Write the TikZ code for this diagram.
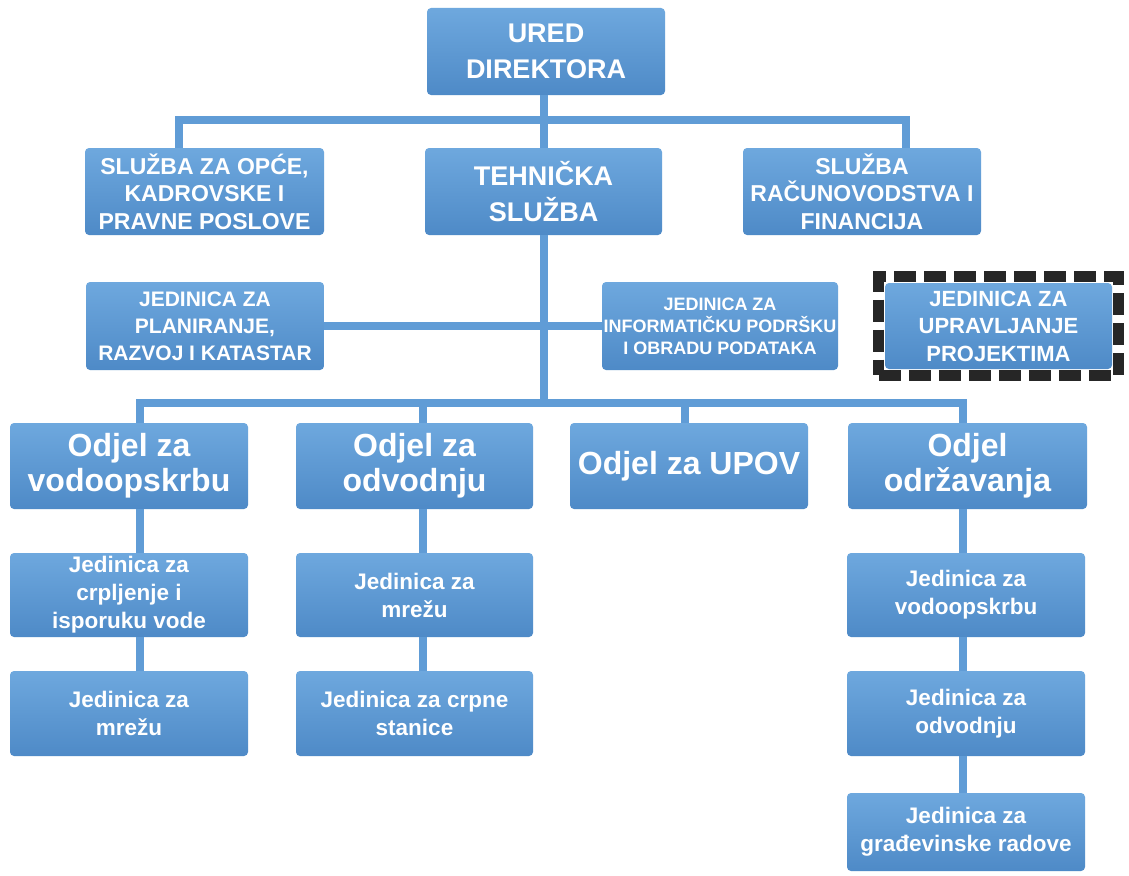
\documentclass[tikz,border=0pt]{standalone}
\usepackage{fontspec}
\setmainfont{Liberation Sans}
\usetikzlibrary{fit}
\definecolor{boxtop}{RGB}{110,168,222}
\definecolor{boxbot}{RGB}{78,138,199}
\definecolor{linecol}{RGB}{96,156,214}
\tikzset{
  orgbox/.style={rounded corners=4pt, top color=boxtop, bottom color=boxbot, draw=none,
    text=white, align=center, inner sep=0pt, anchor=center},
  big/.style={font=\fontsize{27pt}{36pt}\selectfont\bfseries},
  mid/.style={font=\fontsize{23pt}{27.5pt}\selectfont\bfseries},
  odj/.style={font=\fontsize{32pt}{35pt}\selectfont\bfseries},
  unit/.style={font=\fontsize{22.5pt}{28pt}\selectfont\bfseries},
  conn/.style={draw=linecol, line width=8pt},
  dashframe/.style={draw=black!85, line width=11pt, dash pattern=on 22pt off 8pt, inner sep=6pt}
}
\begin{document}
\begin{tikzpicture}[x=1pt,y=-1pt]
\useasboundingbox[fill=white] (0,0) rectangle (1129,875);
% coordinates for connector bends
\coordinate (h1) at (544,120);
\coordinate (h1l) at (179,120);
\coordinate (h1r) at (906,120);
\coordinate (h3) at (544,403);
\coordinate (h3l) at (140,403);
\coordinate (v2) at (423,403);
\coordinate (v3) at (685,403);
\coordinate (h3r) at (963,403);

% level 1
\node[orgbox,big,minimum width=238pt,minimum height=87pt] (dir) at (546,51.5) {URED\\DIREKTORA};
% level 2
\node[orgbox,mid,minimum width=239pt,minimum height=87pt] (opce) at (204.5,191.5) {SLUŽBA ZA OPĆE,\\KADROVSKE I\\PRAVNE POSLOVE};
\node[orgbox,big,minimum width=237pt,minimum height=87pt] (teh) at (543.5,191.5) {TEHNIČKA\\SLUŽBA};
\node[orgbox,mid,minimum width=238pt,minimum height=87pt] (rac) at (862,191.5) {SLUŽBA\\RAČUNOVODSTVA I\\FINANCIJA};
% level 3
\node[orgbox,font=\fontsize{21pt}{27pt}\selectfont\bfseries,minimum width=238pt,minimum height=88pt] (plan) at (205,326) {JEDINICA ZA\\PLANIRANJE,\\RAZVOJ I KATASTAR};
\node[orgbox,font=\fontsize{18pt}{22pt}\selectfont\bfseries,minimum width=236pt,minimum height=88pt] (inf) at (720,326) {JEDINICA ZA\\INFORMATIČKU PODRŠKU\\I OBRADU PODATAKA};
\node[orgbox,font=\fontsize{22pt}{27.5pt}\selectfont\bfseries,minimum width=227pt,minimum height=86pt] (proj) at (998.5,326) {JEDINICA ZA\\UPRAVLJANJE\\PROJEKTIMA};
\node[dashframe,fit=(proj)] (projframe) {};
% level 4
\node[orgbox,odj,minimum width=238pt,minimum height=86pt] (d1) at (129,466) {Odjel za\\vodoopskrbu};
\node[orgbox,odj,minimum width=237pt,minimum height=86pt] (d2) at (414.5,466) {Odjel za\\odvodnju};
\node[orgbox,odj,minimum width=238pt,minimum height=86pt] (d3) at (689,466) {Odjel za UPOV};
\node[orgbox,odj,minimum width=239pt,minimum height=86pt] (d4) at (967.5,466) {Odjel\\održavanja};
% level 5
\node[orgbox,unit,minimum width=238pt,minimum height=84pt] (e1) at (129,595) {Jedinica za\\crpljenje i\\isporuku vode};
\node[orgbox,unit,minimum width=238pt,minimum height=85pt] (f1) at (129,713.5) {Jedinica za\\mrežu};
\node[orgbox,unit,minimum width=237pt,minimum height=84pt] (e2) at (414.5,595) {Jedinica za\\mrežu};
\node[orgbox,unit,minimum width=237pt,minimum height=85pt] (f2) at (414.5,713.5) {Jedinica za crpne\\stanice};
\node[orgbox,unit,minimum width=238pt,minimum height=84pt] (e4) at (966,595) {Jedinica za\\vodoopskrbu};
\node[orgbox,unit,minimum width=238pt,minimum height=85pt] (f4) at (966,713.5) {Jedinica za\\odvodnju};
\node[orgbox,unit,minimum width=238pt,minimum height=78pt] (g4) at (966,832) {Jedinica za\\građevinske radove};

% connectors
\draw[conn] (dir.south -| h1) -- (teh.north -| h1);
\draw[conn] (opce.north -| h1l) -- (h1l) -- (h1r) -- (rac.north -| h1r);
\draw[conn] (teh.south -| h3) -- (h3);
\draw[conn] (plan.east) -- (inf.west);
\draw[conn] (d1.north -| h3l) -- (h3l) -- (h3r) -- (d4.north -| h3r);
\draw[conn] (d2.north -| v2) -- (v2);
\draw[conn] (d3.north -| v3) -- (v3);
\draw[conn] (d1.south -| h3l) -- (e1.north -| h3l);
\draw[conn] (e1.south -| h3l) -- (f1.north -| h3l);
\draw[conn] (d2.south -| v2) -- (e2.north -| v2);
\draw[conn] (e2.south -| v2) -- (f2.north -| v2);
\draw[conn] (d4.south -| h3r) -- (e4.north -| h3r);
\draw[conn] (e4.south -| h3r) -- (f4.north -| h3r);
\draw[conn] (f4.south -| h3r) -- (g4.north -| h3r);
\end{tikzpicture}
\end{document}
